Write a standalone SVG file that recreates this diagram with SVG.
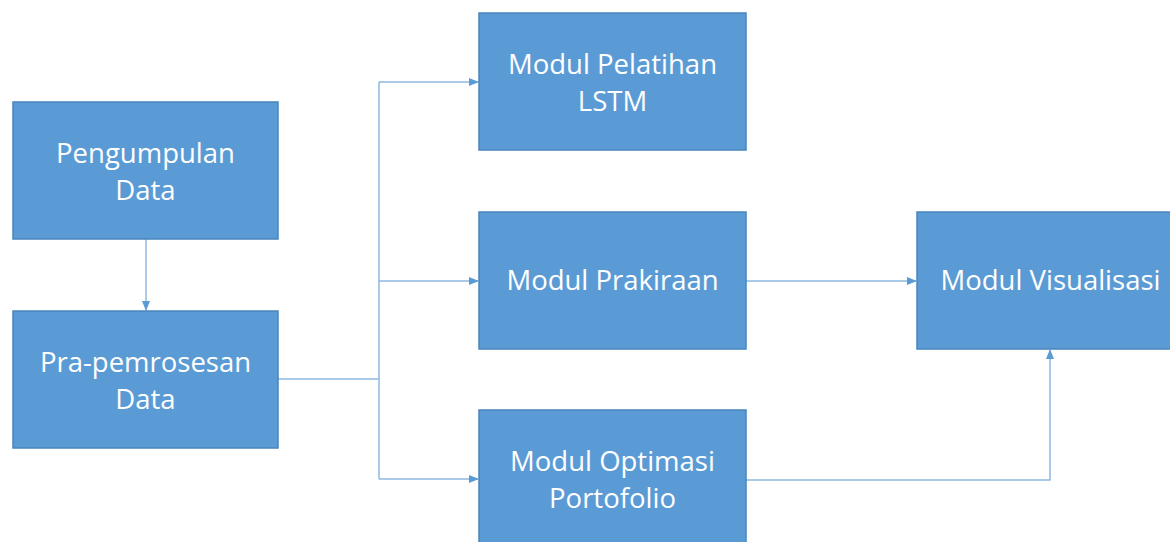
<svg xmlns="http://www.w3.org/2000/svg" width="1170" height="542" viewBox="0 0 1170 542">
<style>
.box{fill:#5B9BD5;stroke:#4A85BC;stroke-width:1.5}
.lbl{font-family:"Open Sans","Noto Sans",sans-serif;font-size:27.5px;fill:#FFFFFF;text-anchor:middle}
.con{fill:none;stroke:#8DB8E2;stroke-width:1.5}
</style>
<defs>
<marker id="arr" markerWidth="10" markerHeight="8" refX="9" refY="4" orient="auto" markerUnits="userSpaceOnUse">
<path d="M0,0 L10,4 L0,8 Z" fill="#5B9BD5"/>
</marker>
</defs>
<rect width="1170" height="542" fill="#FFFFFF"/>
<g id="connectors">
<path class="con" d="M146,239 V310" marker-end="url(#arr)"/>
<path class="con" d="M278,379 H379"/>
<path class="con" d="M379,82 V479"/>
<path class="con" d="M379,82 H478" marker-end="url(#arr)"/>
<path class="con" d="M379,281 H478" marker-end="url(#arr)"/>
<path class="con" d="M379,479 H478" marker-end="url(#arr)"/>
<path class="con" d="M746,281 H916" marker-end="url(#arr)"/>
<path class="con" d="M746,480 H1050 V350" marker-end="url(#arr)"/>
</g>
<g id="pengumpulan">
<rect class="box" x="13" y="102" width="265" height="137"/>
<text class="lbl" x="145.5" y="163">Pengumpulan</text>
<text class="lbl" x="145.5" y="200">Data</text>
</g>
<g id="prapemrosesan">
<rect class="box" x="13" y="311" width="265" height="137"/>
<text class="lbl" x="145.5" y="372">Pra-pemrosesan</text>
<text class="lbl" x="145.5" y="409">Data</text>
</g>
<g id="pelatihan">
<rect class="box" x="479" y="13" width="267" height="137"/>
<text class="lbl" x="612.5" y="74">Modul Pelatihan</text>
<text class="lbl" x="612.5" y="111">LSTM</text>
</g>
<g id="prakiraan">
<rect class="box" x="479" y="212" width="267" height="137"/>
<text class="lbl" x="612.5" y="290">Modul Prakiraan</text>
</g>
<g id="optimasi">
<rect class="box" x="479" y="410" width="267" height="137"/>
<text class="lbl" x="612.5" y="471">Modul Optimasi</text>
<text class="lbl" x="612.5" y="508">Portofolio</text>
</g>
<g id="visualisasi">
<rect class="box" x="917" y="212" width="267" height="137"/>
<text class="lbl" x="1050.5" y="290">Modul Visualisasi</text>
</g>
</svg>
